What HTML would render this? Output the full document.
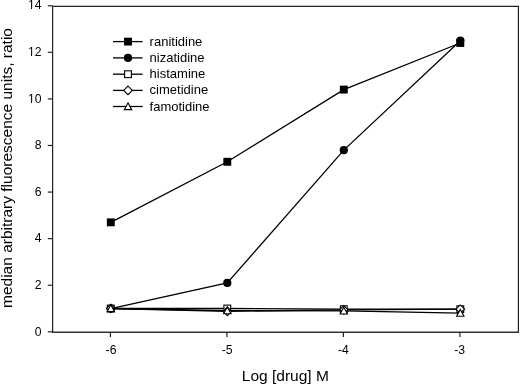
<!DOCTYPE html><html><head><meta charset="utf-8"><style>html,body{margin:0;padding:0;background:#fff;width:520px;height:385px;overflow:hidden}svg{display:block;will-change:transform}text{font-family:"Liberation Sans",sans-serif;fill:#000}</style></head><body>
<svg width="520" height="385" viewBox="0 0 520 385">
<g stroke="#222" stroke-width="1.2" fill="none">
<path d="M52.6 332.9V6.4H518.4V332.2"/>
<path d="M52 332.2H519" stroke="#333" stroke-width="1.4"/>
<path d="M47.8 331.80H52.6"/>
<path d="M47.8 285.22H52.6"/>
<path d="M47.8 238.64H52.6"/>
<path d="M47.8 192.06H52.6"/>
<path d="M47.8 145.48H52.6"/>
<path d="M47.8 98.90H52.6"/>
<path d="M47.8 52.32H52.6"/>
<path d="M47.8 5.74H52.6"/>
<path d="M110.40 332.3V337"/>
<path d="M226.90 332.3V337"/>
<path d="M343.40 332.3V337"/>
<path d="M459.90 332.3V337"/>
</g>
<defs><clipPath id="nf"><path clip-rule="evenodd" d="M0 0H60V385H0Z M26.50 101.10H31.00V103.10H26.50Z M32.00 101.10H34.30V103.10H32.00Z M26.50 54.52H31.00V56.52H26.50Z M32.00 54.52H34.30V56.52H32.00Z M26.50 7.94H31.00V9.94H26.50Z M32.00 7.94H34.30V9.94H32.00Z "/></clipPath></defs>
<g font-size="12.2" text-anchor="end" clip-path="url(#nf)">
<text x="41.5" y="335.50">0</text>
<text x="41.5" y="288.92">2</text>
<text x="41.5" y="242.34">4</text>
<text x="41.5" y="195.76">6</text>
<text x="41.5" y="149.18">8</text>
<text x="41.5" y="102.60">10</text>
<text x="41.5" y="56.02">12</text>
<text x="41.5" y="9.44">14</text>
</g>
<g font-size="12.2" text-anchor="middle">
<text x="111.00" y="353.5">-6</text>
<text x="227.20" y="353.5">-5</text>
<text x="343.40" y="353.5">-4</text>
<text x="459.70" y="353.5">-3</text>
</g>
<text x="285.3" y="380.9" font-size="15.5" text-anchor="middle">Log [drug] M</text>
<text transform="translate(12.0 168) rotate(-90)" font-size="15.5" text-anchor="middle">median arbitrary fluorescence units, ratio</text>
<polyline points="110.80,222.34 227.30,161.78 343.80,89.58 460.30,43.00" fill="none" stroke="#000" stroke-width="1.3"/>
<rect x="106.85" y="218.39" width="7.90" height="7.90" fill="#000"/>
<rect x="223.35" y="157.83" width="7.90" height="7.90" fill="#000"/>
<rect x="339.85" y="85.63" width="7.90" height="7.90" fill="#000"/>
<rect x="456.35" y="39.05" width="7.90" height="7.90" fill="#000"/>
<polyline points="110.80,308.51 227.30,282.89 343.80,150.14 460.30,40.68" fill="none" stroke="#000" stroke-width="1.3"/>
<circle cx="110.80" cy="308.51" r="4.1" fill="#000"/>
<circle cx="227.30" cy="282.89" r="4.1" fill="#000"/>
<circle cx="343.80" cy="150.14" r="4.1" fill="#000"/>
<circle cx="460.30" cy="40.68" r="4.1" fill="#000"/>
<polyline points="110.80,308.51 227.30,308.51 343.80,309.21 460.30,309.21" fill="none" stroke="#000" stroke-width="1.3"/>
<rect x="107.40" y="305.11" width="6.80" height="6.80" fill="#fff" stroke="#000" stroke-width="1.1"/>
<rect x="223.90" y="305.11" width="6.80" height="6.80" fill="#fff" stroke="#000" stroke-width="1.1"/>
<rect x="340.40" y="305.81" width="6.80" height="6.80" fill="#fff" stroke="#000" stroke-width="1.1"/>
<rect x="456.90" y="305.81" width="6.80" height="6.80" fill="#fff" stroke="#000" stroke-width="1.1"/>
<polyline points="110.80,308.51 227.30,311.30 343.80,309.91 460.30,309.21" fill="none" stroke="#000" stroke-width="1.3"/>
<path d="M110.80 304.21L115.10 308.51L110.80 312.81L106.50 308.51Z" fill="#fff" stroke="#000" stroke-width="1.1"/>
<path d="M227.30 307.00L231.60 311.30L227.30 315.60L223.00 311.30Z" fill="#fff" stroke="#000" stroke-width="1.1"/>
<path d="M343.80 305.61L348.10 309.91L343.80 314.21L339.50 309.91Z" fill="#fff" stroke="#000" stroke-width="1.1"/>
<path d="M460.30 304.91L464.60 309.21L460.30 313.51L456.00 309.21Z" fill="#fff" stroke="#000" stroke-width="1.1"/>
<polyline points="110.80,308.51 227.30,310.61 343.80,310.84 460.30,313.17" fill="none" stroke="#000" stroke-width="1.3"/>
<path d="M110.80 304.81L114.50 311.65L107.10 311.65Z" fill="#fff" stroke="#000" stroke-width="1.1"/>
<path d="M227.30 306.91L231.00 313.75L223.60 313.75Z" fill="#fff" stroke="#000" stroke-width="1.1"/>
<path d="M343.80 307.14L347.50 313.98L340.10 313.98Z" fill="#fff" stroke="#000" stroke-width="1.1"/>
<path d="M460.30 309.47L464.00 316.31L456.60 316.31Z" fill="#fff" stroke="#000" stroke-width="1.1"/>
<path d="M113 41.6H142.6" stroke="#000" stroke-width="1.3"/>
<rect x="124.05" y="37.65" width="7.90" height="7.90" fill="#000"/>
<text x="149.6" y="45.60" font-size="13.0">ranitidine</text>
<path d="M113 57.9H142.6" stroke="#000" stroke-width="1.3"/>
<circle cx="128.00" cy="57.90" r="4.1" fill="#000"/>
<text x="149.6" y="61.90" font-size="13.0">nizatidine</text>
<path d="M113 74.2H142.6" stroke="#000" stroke-width="1.3"/>
<rect x="124.60" y="70.80" width="6.80" height="6.80" fill="#fff" stroke="#000" stroke-width="1.1"/>
<text x="149.6" y="78.20" font-size="13.0">histamine</text>
<path d="M113 90.4H142.6" stroke="#000" stroke-width="1.3"/>
<path d="M128.00 86.10L132.30 90.40L128.00 94.70L123.70 90.40Z" fill="#fff" stroke="#000" stroke-width="1.1"/>
<text x="149.6" y="94.40" font-size="13.0">cimetidine</text>
<path d="M113 106.5H142.6" stroke="#000" stroke-width="1.3"/>
<path d="M128.00 102.80L131.70 109.64L124.30 109.64Z" fill="#fff" stroke="#000" stroke-width="1.1"/>
<text x="149.6" y="110.50" font-size="13.0">famotidine</text>
</svg></body></html>
